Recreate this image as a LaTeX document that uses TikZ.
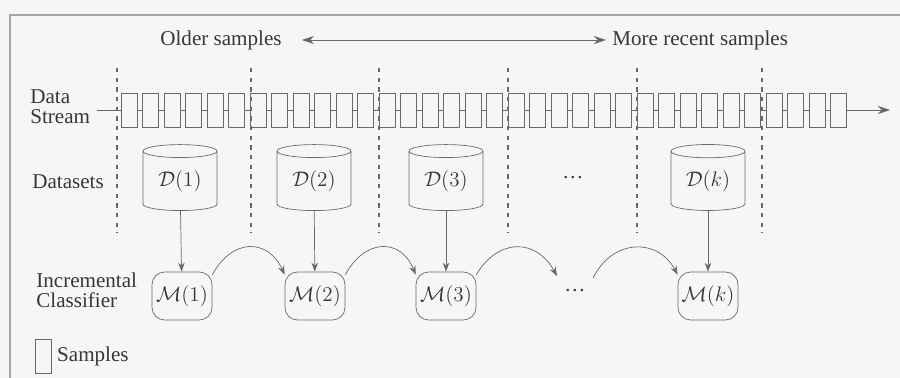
\documentclass[tikz,border=0pt]{standalone}
\usepackage{fontspec}
\setmainfont{Liberation Serif}
\usetikzlibrary{arrows.meta,shapes.geometric,positioning}
\definecolor{linegray}{RGB}{105,105,105}
\definecolor{textgray}{RGB}{55,55,55}
\definecolor{paper}{RGB}{246,246,244}
\tikzset{
  sample/.style={draw=linegray,minimum width=0.32cm,minimum height=0.68cm,inner sep=0pt},
  dataset/.style={cylinder,shape border rotate=90,draw=linegray,aspect=0.3,
    minimum height=1.32cm,minimum width=1.48cm,inner sep=0pt,text=textgray},
  model/.style={draw=linegray,rounded corners=2.5mm,minimum width=1.2cm,
    minimum height=0.96cm,inner sep=0pt,text=textgray},
  sep/.style={linegray,line width=0.9pt,dash pattern=on 2.5pt off 3pt},
  lbl/.style={text=textgray,font=\fontsize{12}{11.5}\selectfont,align=left,inner sep=0pt},
  flow/.style={linegray,-{Stealth[length=1.8mm,width=1.3mm]}},
}
\begin{document}
\begin{tikzpicture}[x=0.02cm,y=-0.02cm,font=\fontsize{12}{14}\selectfont]
\useasboundingbox[fill=paper] (0,0) rectangle (900,378);
\draw[gray!70,line width=1.2pt] (10,378) |- (900,15);
% time axis
\node[lbl] (old) at (221,40) {Older samples};
\node[lbl,anchor=west] (new) at (612,40) {More recent samples};
\draw[linegray,{Stealth[length=2.4mm,width=1.6mm]}-{Stealth[length=2.4mm,width=1.6mm]},
  shorten <=0.4cm,shorten >=0.12cm] (old) -- (new);
% separators
\foreach \x in {117,251,379,508,637,762}
  \draw[sep] (\x,68) -- (\x,233);
% data stream
\node[lbl,anchor=west] (stream) at (30,107) {Data\\Stream};
\foreach \i in {0,...,33}
  \node[sample] (s\i) at (129+21.5*\i,110) {};
\coordinate (sin) at (97,110);
\coordinate (sout) at (890,110);
\draw[linegray] (sin) -- (s0);
\foreach \i [evaluate=\i as \j using int(\i+1)] in {0,...,32}
  \draw[linegray] (s\i) -- (s\j);
\draw[linegray,-{Stealth[length=2.4mm,width=1.6mm]}] (s33) -- (sout);
% datasets
\node[lbl,anchor=west] (dlbl) at (32,182) {Datasets};
\node[dataset] (d1) at (180,181) {$\mathcal{D}(1)$};
\node[dataset] (d2) at (314,181) {$\mathcal{D}(2)$};
\node[dataset] (d3) at (446,181) {$\mathcal{D}(3)$};
\node[text=textgray] (ddots) at (573,178) {\dots};
\node[dataset] (dk) at (708,181) {$\mathcal{D}(k)$};
% classifiers
\node[lbl,anchor=west] (mlbl) at (36,290) {Incremental\\Classifier};
\node[model] (m1) at (182,296) {$\mathcal{M}(1)$};
\node[model] (m2) at (315,296) {$\mathcal{M}(2)$};
\node[model] (m3) at (446,296) {$\mathcal{M}(3)$};
\node[text=textgray] (mdots) at (575,291) {\dots};
\node[model] (mk) at (708,296) {$\mathcal{M}(k)$};
\foreach \n in {1,2,3,k}
  \draw[flow] (d\n) -- (m\n);
\coordinate (gapin) at (557,276);
\coordinate (gapout) at (593,278);
\draw[flow] (m1.35) .. controls (232,238) and (268,238) .. (m2.145);
\draw[flow] (m2.35) .. controls (365,238) and (401,238) .. (m3.145);
\draw[flow] (m3.35) .. controls (498,238) and (536,238) .. (gapin);
\draw[flow] (gapout) .. controls (613,238) and (658,238) .. (mk.145);
% legend
\node[sample] (legbox) at (43.5,356) {};
\node[lbl,right=0.1cm of legbox] (leglbl) {Samples};
\end{tikzpicture}
\end{document}
